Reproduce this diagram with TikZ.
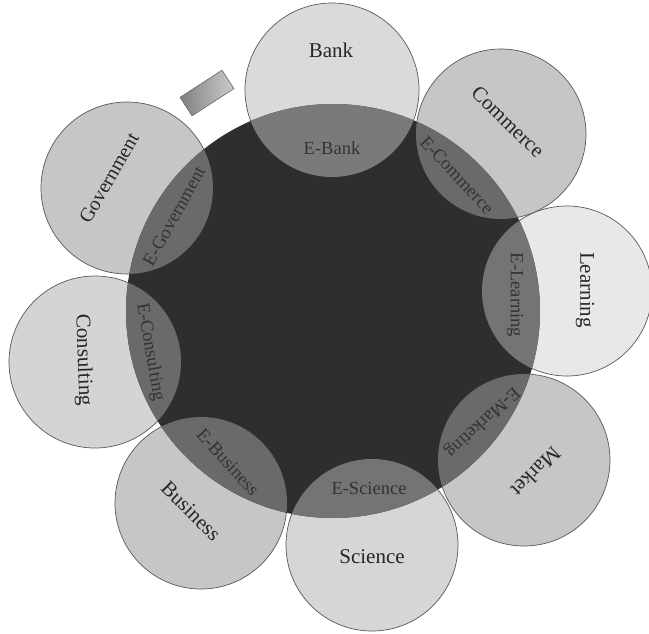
\documentclass[tikz,border=0pt]{standalone}
\usepackage{fontspec}
\setmainfont{Liberation Serif}
\definecolor{bigc}{HTML}{2C2F2C}
\definecolor{lensc}{HTML}{6A6A6A}
\definecolor{lensl}{HTML}{7A7A7A}
\definecolor{ringc}{HTML}{C6C6C6}
\definecolor{ringl}{HTML}{DADADA}
\definecolor{ringw}{HTML}{E8E8E8}
\begin{document}
\begin{tikzpicture}[x=1pt,y=-1pt,
  outer/.style={draw=black!65, line width=0.7pt},
  lbl/.style={font=\fontsize{21}{21}\selectfont, text=black!85, inner sep=0pt},
  ilbl/.style={font=\fontsize{18.5}{18.5}\selectfont, text=black!80, inner sep=0pt}]
\useasboundingbox (0,0) rectangle (649,633);
\fill[white] (0,0) rectangle (649,633);
% centres
\coordinate (cBig) at (333,311);
\coordinate (cBank) at (332,90);
\coordinate (cComm) at (501,134);
\coordinate (cLearn) at (567,291);
\coordinate (cMark) at (524,460);
\coordinate (cSci) at (372,545);
\coordinate (cBus) at (201,503);
\coordinate (cCons) at (95,362);
\coordinate (cGov) at (127,188);
% outer circles
\filldraw[outer, fill=ringl] (cBank) circle[radius=87pt];
\filldraw[outer, fill=ringc] (cComm) circle[radius=85pt];
\filldraw[outer, fill=ringw] (cLearn) circle[radius=85pt];
\filldraw[outer, fill=ringc] (cMark) circle[radius=86pt];
\filldraw[outer, fill=ringl!80!ringc] (cSci) circle[radius=86pt];
\filldraw[outer, fill=ringc] (cBus) circle[radius=86pt];
\filldraw[outer, fill=ringl!70!ringc] (cCons) circle[radius=86pt];
\filldraw[outer, fill=ringc] (cGov) circle[radius=86pt];
% central circle
\fill[bigc] (cBig) circle[radius=207pt];
% lenses
\begin{scope}
  \clip (cBig) circle[radius=207pt];
  \fill[lensl] (cBank) circle[radius=87pt];
  \fill[lensc] (cComm) circle[radius=85pt];
  \fill[lensl!60!lensc] (cLearn) circle[radius=85pt];
  \fill[lensc] (cMark) circle[radius=86pt];
  \fill[lensl!60!lensc] (cSci) circle[radius=86pt];
  \fill[lensc] (cBus) circle[radius=86pt];
  \fill[lensc] (cCons) circle[radius=86pt];
  \fill[lensc] (cGov) circle[radius=86pt];
\end{scope}
% small rectangle
\node[draw=black!60, line width=0.6pt, minimum width=50pt, minimum height=22pt,
      rotate=33, left color=black!50, right color=black!20] (tag) at (207,93) {};
% outer labels
\node[lbl] (tBank) at (331,50) {Bank};
\node[lbl, rotate=-44] (tComm) at (508,122) {Commerce};
\node[lbl, rotate=-90] (tLearn) at (585,290) {Learning};
\node[lbl, rotate=-135] (tMark) at (536,472) {Market};
\node[lbl] (tSci) at (372,557) {Science};
\node[lbl, rotate=-45] (tBus) at (191,511) {Business};
\node[lbl, rotate=-88] (tCons) at (83,360) {Consulting};
\node[lbl, rotate=60, font=\fontsize{20}{20}\selectfont] (tGov) at (109,178) {Government};
% inner labels
\node[ilbl] (iBank) at (332,148) {E-Bank};
\node[ilbl, rotate=-47] (iComm) at (457,175) {E-Commerce};
\node[ilbl, rotate=-90] (iLearn) at (515,295) {E-Learning};
\node[ilbl, rotate=-137] (iMark) at (482,422) {E-Marketing};
\node[ilbl] (iSci) at (369,488) {E-Science};
\node[ilbl, rotate=-48] (iBus) at (228,462) {E-Business};
\node[ilbl, rotate=-80] (iCons) at (150,352) {E-Consulting};
\node[ilbl, rotate=61] (iGov) at (174,216) {E-Government};
\end{tikzpicture}
\end{document}
